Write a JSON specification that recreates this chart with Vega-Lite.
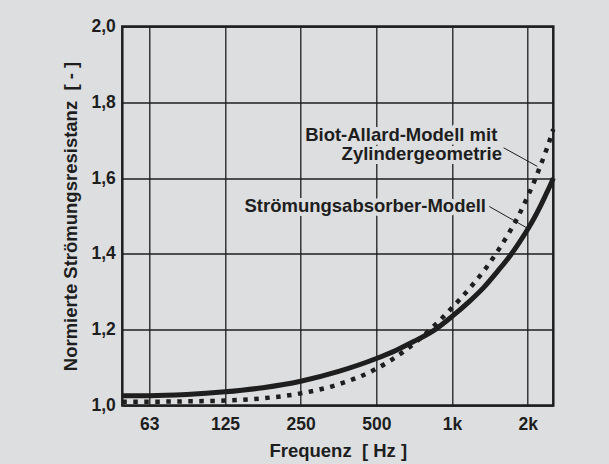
{
  "$schema": "https://vega.github.io/schema/vega-lite/v6.json",
  "width": 431,
  "height": 379,
  "autosize": {"type": "none"},
  "padding": {"left": 122.3, "top": 26.5, "right": 55.7, "bottom": 58.5},
  "background": "#dddee0",
  "config": {
    "font": "Liberation Sans",
    "view": {"stroke": "#1e1e1e", "strokeWidth": 2.5, "fill": "#dddee0"},
    "axis": {
      "labelFont": "Liberation Sans",
      "labelFontSize": 17.5,
      "labelFontWeight": "bold",
      "labelColor": "#1e1e1e",
      "titleFont": "Liberation Sans",
      "titleFontSize": 18.5,
      "titleFontWeight": "bold",
      "titleColor": "#1e1e1e",
      "grid": true,
      "gridColor": "#1e1e1e",
      "gridWidth": 1.3,
      "gridOpacity": 1,
      "ticks": false,
      "domain": false,
      "labelFlush": false,
      "labelOverlap": false
    }
  },
  "datasets": {
    "curves": [
      {"model": "Strömungsabsorber-Modell", "f": 48.8, "v": 1.026},
      {"model": "Strömungsabsorber-Modell", "f": 62.5, "v": 1.026},
      {"model": "Strömungsabsorber-Modell", "f": 88, "v": 1.029},
      {"model": "Strömungsabsorber-Modell", "f": 125, "v": 1.036},
      {"model": "Strömungsabsorber-Modell", "f": 177, "v": 1.047},
      {"model": "Strömungsabsorber-Modell", "f": 250, "v": 1.064},
      {"model": "Strömungsabsorber-Modell", "f": 354, "v": 1.09},
      {"model": "Strömungsabsorber-Modell", "f": 500, "v": 1.124},
      {"model": "Strömungsabsorber-Modell", "f": 600, "v": 1.146},
      {"model": "Strömungsabsorber-Modell", "f": 700, "v": 1.168},
      {"model": "Strömungsabsorber-Modell", "f": 850, "v": 1.199},
      {"model": "Strömungsabsorber-Modell", "f": 1000, "v": 1.235},
      {"model": "Strömungsabsorber-Modell", "f": 1170, "v": 1.274},
      {"model": "Strömungsabsorber-Modell", "f": 1335, "v": 1.311},
      {"model": "Strömungsabsorber-Modell", "f": 1500, "v": 1.35},
      {"model": "Strömungsabsorber-Modell", "f": 1705, "v": 1.396},
      {"model": "Strömungsabsorber-Modell", "f": 1850, "v": 1.43},
      {"model": "Strömungsabsorber-Modell", "f": 2000, "v": 1.465},
      {"model": "Strömungsabsorber-Modell", "f": 2120, "v": 1.494},
      {"model": "Strömungsabsorber-Modell", "f": 2238, "v": 1.524},
      {"model": "Strömungsabsorber-Modell", "f": 2360, "v": 1.556},
      {"model": "Strömungsabsorber-Modell", "f": 2492, "v": 1.59},
      {"model": "Strömungsabsorber-Modell", "f": 2528, "v": 1.6},
      {"model": "Biot-Allard-Modell", "f": 48.8, "v": 1.01},
      {"model": "Biot-Allard-Modell", "f": 62.5, "v": 1.01},
      {"model": "Biot-Allard-Modell", "f": 88, "v": 1.011},
      {"model": "Biot-Allard-Modell", "f": 125, "v": 1.013},
      {"model": "Biot-Allard-Modell", "f": 177, "v": 1.019},
      {"model": "Biot-Allard-Modell", "f": 250, "v": 1.032},
      {"model": "Biot-Allard-Modell", "f": 354, "v": 1.056},
      {"model": "Biot-Allard-Modell", "f": 500, "v": 1.097},
      {"model": "Biot-Allard-Modell", "f": 650, "v": 1.145},
      {"model": "Biot-Allard-Modell", "f": 817, "v": 1.2},
      {"model": "Biot-Allard-Modell", "f": 895, "v": 1.225},
      {"model": "Biot-Allard-Modell", "f": 1000, "v": 1.258},
      {"model": "Biot-Allard-Modell", "f": 1077, "v": 1.281},
      {"model": "Biot-Allard-Modell", "f": 1212, "v": 1.32},
      {"model": "Biot-Allard-Modell", "f": 1369, "v": 1.364},
      {"model": "Biot-Allard-Modell", "f": 1521, "v": 1.408},
      {"model": "Biot-Allard-Modell", "f": 1673, "v": 1.452},
      {"model": "Biot-Allard-Modell", "f": 1836, "v": 1.5},
      {"model": "Biot-Allard-Modell", "f": 2000, "v": 1.552},
      {"model": "Biot-Allard-Modell", "f": 2120, "v": 1.59},
      {"model": "Biot-Allard-Modell", "f": 2238, "v": 1.63},
      {"model": "Biot-Allard-Modell", "f": 2380, "v": 1.677},
      {"model": "Biot-Allard-Modell", "f": 2492, "v": 1.716},
      {"model": "Biot-Allard-Modell", "f": 2528, "v": 1.729}
    ],
    "labels": [
      {"f": 1514, "v": 1.698, "label": "Biot-Allard-Modell mit"},
      {"f": 1580, "v": 1.649, "label": "Zylindergeometrie"},
      {"f": 1365, "v": 1.51, "label": "Strömungsabsorber-Modell"}
    ],
    "leaders": [
      {"f": 1604, "v": 1.68, "f2": 2183, "v2": 1.631},
      {"f": 1407, "v": 1.525, "f2": 1993, "v2": 1.468}
    ]
  },
  "layer": [
    {
      "data": {"name": "curves"},
      "transform": [{"filter": "datum.model == 'Strömungsabsorber-Modell'"}],
      "mark": {"type": "line", "strokeWidth": 5, "color": "#1e1e1e", "interpolate": "monotone"},
      "encoding": {
        "x": {
          "field": "f", "type": "quantitative",
          "scale": {"type": "log", "domain": [48.8, 2528], "nice": false},
          "title": "Frequenz\u00a0\u00a0[ Hz ]",
          "axis": {
            "values": [62.5, 125, 250, 500, 1000, 2000],
            "labelExpr": "datum.value == 62.5 ? '63' : (datum.value >= 1000 ? (datum.value / 1000) + 'k' : '' + datum.value)",
            "labelPadding": 10,
            "titlePadding": 8
          }
        },
        "y": {
          "field": "v", "type": "quantitative",
          "scale": {"domain": [1, 2], "nice": false, "zero": false},
          "title": "Normierte Strömungsresistanz\u00a0\u00a0[ - ]",
          "axis": {
            "values": [1, 1.2, 1.4, 1.6, 1.8, 2],
            "labelExpr": "replace(format(datum.value, '.1f'), '.', ',')",
            "labelPadding": 7,
            "titlePadding": 10
          }
        }
      }
    },
    {
      "data": {"name": "curves"},
      "transform": [{"filter": "datum.model == 'Biot-Allard-Modell'"}],
      "mark": {"type": "line", "strokeWidth": 4.5, "strokeDash": [4.5, 6.5], "strokeCap": "butt", "color": "#1e1e1e", "interpolate": "monotone"},
      "encoding": {
        "x": {"field": "f", "type": "quantitative", "title": "Frequenz\u00a0\u00a0[ Hz ]"},
        "y": {"field": "v", "type": "quantitative", "title": "Normierte Strömungsresistanz\u00a0\u00a0[ - ]"}
      }
    },
    {
      "data": {"name": "leaders"},
      "mark": {"type": "rule", "strokeWidth": 1, "color": "#1e1e1e"},
      "encoding": {
        "x": {"field": "f", "type": "quantitative", "title": "Frequenz\u00a0\u00a0[ Hz ]"},
        "x2": {"field": "f2"},
        "y": {"field": "v", "type": "quantitative", "title": "Normierte Strömungsresistanz\u00a0\u00a0[ - ]"},
        "y2": {"field": "v2"}
      }
    },
    {
      "data": {"name": "labels"},
      "mark": {"type": "text", "align": "right", "baseline": "alphabetic", "font": "Liberation Sans", "fontSize": 18.5, "fontWeight": "bold", "fill": "#dddee0", "stroke": "#dddee0", "strokeWidth": 8, "strokeJoin": "round"},
      "encoding": {
        "x": {"field": "f", "type": "quantitative", "title": "Frequenz\u00a0\u00a0[ Hz ]"},
        "y": {"field": "v", "type": "quantitative", "title": "Normierte Strömungsresistanz\u00a0\u00a0[ - ]"},
        "text": {"field": "label"}
      }
    },
    {
      "data": {"name": "labels"},
      "mark": {"type": "text", "align": "right", "baseline": "alphabetic", "font": "Liberation Sans", "fontSize": 18.5, "fontWeight": "bold", "fill": "#1e1e1e"},
      "encoding": {
        "x": {"field": "f", "type": "quantitative", "title": "Frequenz\u00a0\u00a0[ Hz ]"},
        "y": {"field": "v", "type": "quantitative", "title": "Normierte Strömungsresistanz\u00a0\u00a0[ - ]"},
        "text": {"field": "label"}
      }
    }
  ]
}
